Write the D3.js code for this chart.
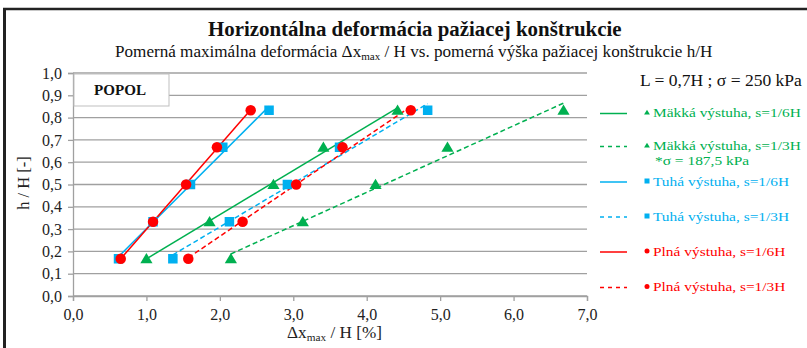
<!DOCTYPE html>
<html><head><meta charset="utf-8">
<script src="https://cdn.jsdelivr.net/npm/d3@7"></script>
<style>
html,body{margin:0;padding:0;background:#fff;}
svg{display:block;}
svg text{font-family:"Liberation Serif","Times New Roman",serif;}
</style></head>
<body>
<svg id="c" width="807" height="348"></svg>
<script>
// ---- data ----
const hLevels = [0.167, 0.333, 0.5, 0.667, 0.833];
const makka16X = [1.00, 1.86, 2.73, 3.41, 4.42];
const makka13X = [2.15, 3.13, 4.12, 5.10, 6.68];
const tuha16X  = [0.62, 1.09, 1.60, 2.04, 2.67];
const tuha13X  = [1.36, 2.13, 2.92, 3.63, 4.83];
const plna16X  = [0.65, 1.09, 1.54, 1.96, 2.42];
const plna13X  = [1.57, 2.31, 3.04, 3.67, 4.60];
const seriesNames = ["Mäkká výstuha, s=1/6H","Mäkká výstuha, s=1/3H","Tuhá výstuha, s=1/6H","Tuhá výstuha, s=1/3H","Plná výstuha, s=1/6H","Plná výstuha, s=1/3H"];
const xTicks = [0,1,2,3,4,5,6,7];
const yTicks = [0,0.1,0.2,0.3,0.4,0.5,0.6,0.7,0.8,0.9,1.0];

const GREEN="#00B050", BLUE="#00B0F0", RED="#FF0000";
const series = [
  {name:seriesNames[0], xs:makka16X, color:GREEN, dash:null, sym:"tri"},
  {name:seriesNames[1], xs:makka13X, color:GREEN, dash:"5,3", sym:"tri"},
  {name:seriesNames[2], xs:tuha16X, color:BLUE, dash:null, sym:"sq"},
  {name:seriesNames[3], xs:tuha13X, color:BLUE, dash:"5,3", sym:"sq"},
  {name:seriesNames[4], xs:plna16X, color:RED, dash:null, sym:"circ"},
  {name:seriesNames[5], xs:plna13X, color:RED, dash:"5,3", sym:"circ"}
];

const svg = d3.select("#c");
const x = d3.scaleLinear().domain([0,7]).range([73,587]);
const y = d3.scaleLinear().domain([0,1]).range([296,73]);
const fmt = d => d3.format(".1f")(d).replace(".",",");
const FONT = '"Liberation Serif","Times New Roman",serif';

// text placed with left edge at lx, baseline by, stretched to width tw (or by factor sx)
function fitText(parent, lx, by, size, opts){
  const t = parent.append("text").attr("x",0).attr("y",0).attr("font-size",size)
    .attr("fill",opts.fill||"#111").style("font-family",FONT);
  if(opts.bold) t.attr("font-weight","bold");
  opts.build(t);
  const w = t.node().getComputedTextLength();
  const sx = opts.sx || (opts.tw / w);
  t.attr("transform",`translate(${lx},${by}) scale(${sx},1)`);
  return {t, sx, w};
}

// outer border
svg.append("line").attr("x1",3).attr("x2",807).attr("y1",9).attr("y2",9).attr("stroke","#222").attr("stroke-width",2.5);
svg.append("line").attr("x1",4.5).attr("x2",4.5).attr("y1",8).attr("y2",348).attr("stroke","#222").attr("stroke-width",3);

// titles
fitText(svg,208,36,20,{bold:true,tw:414,build:t=>t.text("Horizontálna deformácia pažiacej konštrukcie")});
fitText(svg,115,57,17,{tw:598,build:t=>{
  t.append("tspan").text("Pomerná maximálna deformácia Δx");
  t.append("tspan").attr("font-size",11).attr("dy",3).text("max");
  t.append("tspan").attr("dy",-3).text(" / H vs. pomerná výška pažiacej konštrukcie h/H");
}});
fitText(svg,640,86,17,{tw:162,build:t=>t.text("L = 0,7H ; σ = 250 kPa")});

// grid
svg.append("g").selectAll("line").data(yTicks).join("line")
  .attr("x1",x(0)).attr("x2",x(7)).attr("y1",d=>y(d)).attr("y2",d=>y(d))
  .attr("stroke","#a0a0a0").attr("stroke-width",1.3);

// axes
const yAxis = svg.append("g").attr("transform",`translate(${x(0)},0)`)
  .call(d3.axisLeft(y).tickValues(yTicks).tickFormat(fmt).tickSize(5).tickPadding(6));
const xAxis = svg.append("g").attr("transform",`translate(0,${y(0)})`)
  .call(d3.axisBottom(x).tickValues(xTicks).tickFormat(fmt).tickSize(5).tickPadding(8));
[yAxis,xAxis].forEach(a=>{
  a.attr("font-family",null).attr("font-size",null);
  a.select(".domain").attr("stroke","#a0a0a0").attr("stroke-width",1.3);
  a.selectAll(".tick line").attr("stroke","#a0a0a0").attr("stroke-width",1.3);
  a.selectAll("text").style("font-family",FONT).attr("font-size",16).attr("fill","#222");
});

// axis labels
svg.append("text").attr("transform","translate(29,183) rotate(-90)").attr("text-anchor","middle")
  .style("font-family",FONT).attr("font-size",16.5).attr("fill","#222").text("h / H [-]");
fitText(svg,287,338,16,{fill:"#222",tw:95,build:t=>{
  t.append("tspan").text("Δx");
  t.append("tspan").attr("font-size",10.5).attr("dy",3).text("max");
  t.append("tspan").attr("dy",-3).text(" / H [%]");
}});

// POPOL box
svg.append("rect").attr("x",74).attr("y",74).attr("width",95).attr("height",32)
  .attr("fill","#fff").attr("stroke","#bfbfbf").attr("stroke-width",1);
fitText(svg,94,95,15,{bold:true,tw:52,build:t=>t.text("POPOL")});

// symbols
function drawSym(g, sym, cx, cy, color, s){
  if(sym==="circ") g.append("circle").attr("cx",cx).attr("cy",cy).attr("r",s/2).attr("fill",color);
  else if(sym==="sq") g.append("rect").attr("x",cx-s/2).attr("y",cy-s/2).attr("width",s).attr("height",s).attr("fill",color);
  else g.append("path").attr("d",`M${cx},${cy-s*0.55}L${cx+s*0.58},${cy+s*0.42}L${cx-s*0.58},${cy+s*0.42}Z`).attr("fill",color);
}

// trendlines + markers
const plot = svg.append("g");
series.forEach(s=>{
  const pts = s.xs.map((xv,i)=>[xv,hLevels[i]]);
  const mx = d3.mean(pts,p=>p[0]), my = d3.mean(pts,p=>p[1]);
  const slope = d3.sum(pts,p=>(p[0]-mx)*(p[1]-my))/d3.sum(pts,p=>(p[0]-mx)**2);
  const x0 = d3.min(s.xs), x1 = d3.max(s.xs);
  const line = plot.append("line")
    .attr("x1",x(x0)).attr("y1",y(my+slope*(x0-mx)))
    .attr("x2",x(x1)).attr("y2",y(my+slope*(x1-mx)))
    .attr("stroke",s.color).attr("stroke-width",1.5);
  if(s.dash) line.attr("stroke-dasharray",s.dash);
});
series.forEach(s=>{
  const g = plot.append("g");
  const size = s.sym==="circ"?10.5:(s.sym==="sq"?9.5:10.5);
  s.xs.forEach((xv,i)=>drawSym(g,s.sym,x(xv),y(hLevels[i]),s.color,size));
});

// legend
const lineY = [113.5,146.5,182,217,252,287.5];
const leg = svg.append("g");
let legSx = null;
series.forEach((s,i)=>{
  const ly = lineY[i];
  const l = leg.append("line").attr("x1",600).attr("x2",627).attr("y1",ly).attr("y2",ly)
    .attr("stroke",s.color).attr("stroke-width",1.5);
  if(s.dash) l.attr("stroke-dasharray","4,4");
  drawSym(leg,s.sym,647,ly-1,s.color,5);
  const r = fitText(leg,653,ly+3.5,13.5,{fill:s.color, sx:legSx, tw:148, build:t=>t.text(s.name)});
  if(legSx===null) legSx = r.sx;
});
fitText(leg,655,165,13.5,{fill:GREEN,sx:legSx,build:t=>t.text("*σ = 187,5 kPa")});
</script>
</body></html>
